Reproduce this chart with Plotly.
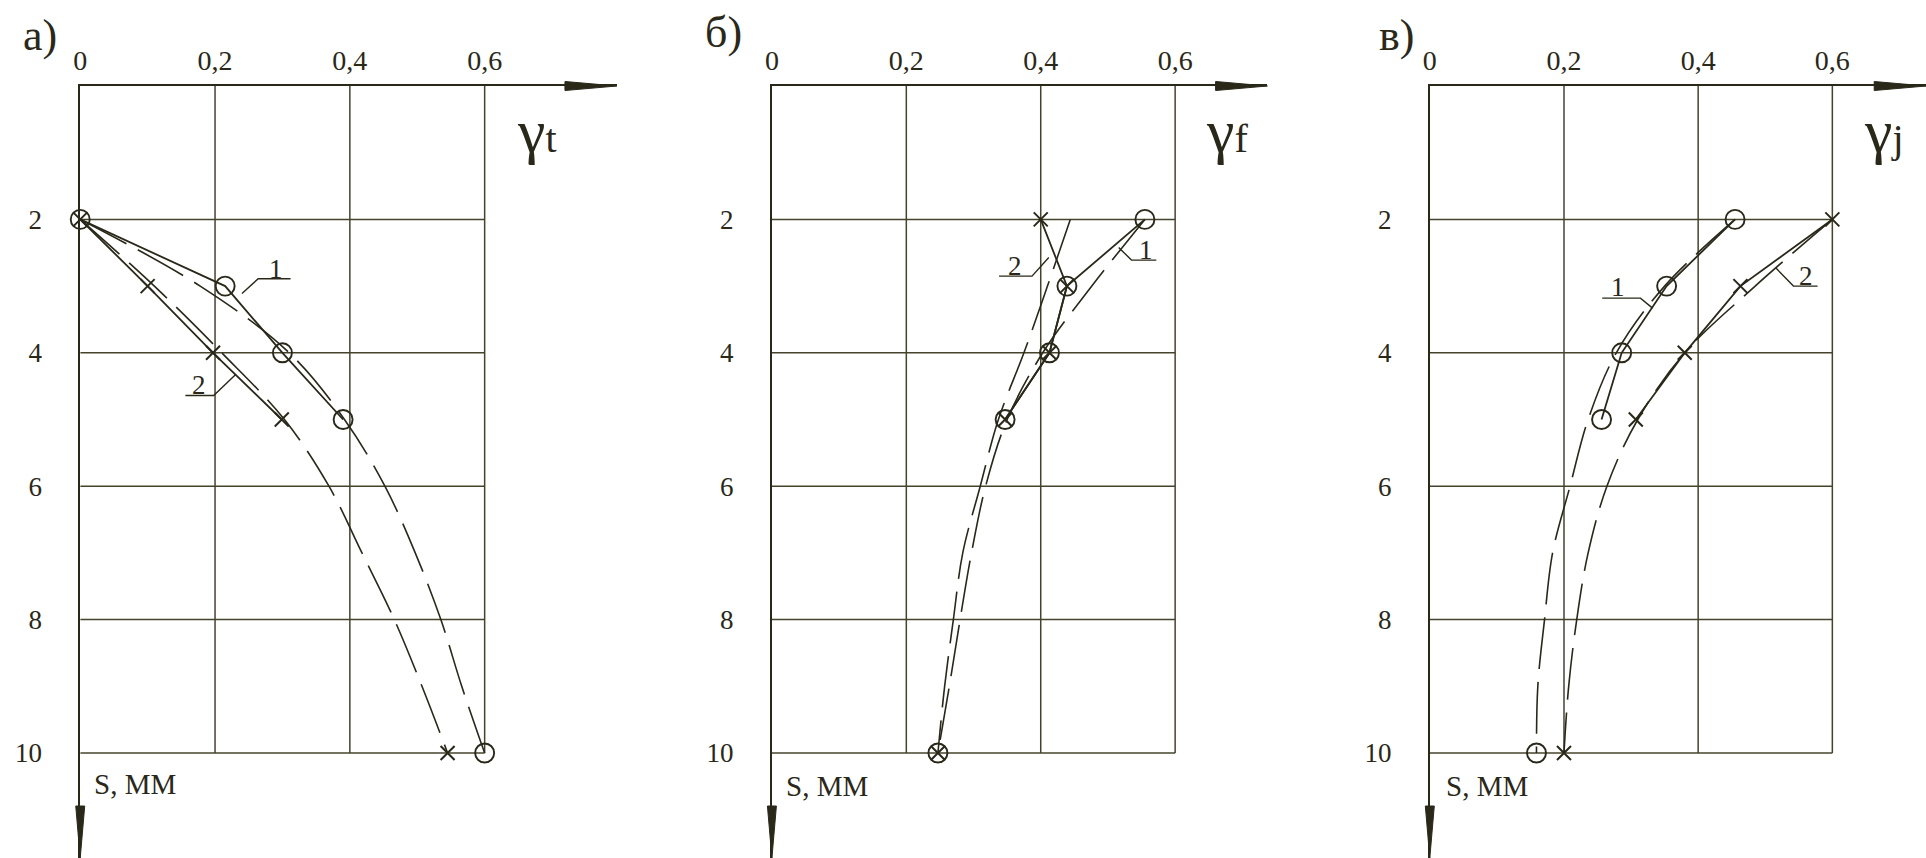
import plotly.graph_objects as go

# Settlement S, mm, at which the coefficients were measured
S_MEAS = [2, 3, 4, 5, 10]
# Settlement levels along the fitted (dashed) curves
S_FIT = [2, 3, 4, 5, 6, 7, 8, 9, 10]

# а) coefficient γt
GT_1 = [0.0, 0.215, 0.30, 0.39, 0.60]
GT_2 = [0.0, 0.10, 0.197, 0.299, 0.545]
GT_1_FIT = [0.0, 0.178, 0.31, 0.392, 0.452, 0.497, 0.535, 0.566, 0.60]
GT_2_FIT = [0.0, 0.11, 0.21, 0.303, 0.369, 0.418, 0.466, 0.507, 0.545]

# б) coefficient γf
GF_1 = [0.555, 0.439, 0.413, 0.347, 0.247]
GF_2 = [0.40, 0.439, 0.413, 0.347, 0.247]
GF_1_FIT = [0.555, 0.476, 0.403, 0.35, 0.318, 0.297, 0.28, 0.264, 0.247]
GF_2_FIT = [0.444, 0.41, 0.375, 0.337, 0.31, 0.284, 0.27, 0.257, 0.247]

# в) coefficient γj
GJ_1 = [0.455, 0.353, 0.286, 0.256, 0.159]
GJ_2 = [0.60, 0.463, 0.38, 0.307, 0.20]
GJ_1_FIT = [0.455, 0.35, 0.278, 0.236, 0.209, 0.183, 0.171, 0.161, 0.159]
GJ_2_FIT = [0.60, 0.485, 0.38, 0.31, 0.264, 0.236, 0.219, 0.207, 0.20]

X_TICKS = [0, 0.2, 0.4, 0.6]
X_TICK_TEXT = ["0", "0,2", "0,4", "0,6"]
Y_TICKS = [2, 4, 6, 8, 10]
Y_TICK_TEXT = ["2", "4", "6", "8", "10"]

# curve number callouts: label, label position, underline + leader polyline
CALLOUTS_T = [("1", 0.290, 2.74, [0.312, 0.264, 0.240], [2.89, 2.89, 3.11]),
              ("2", 0.176, 4.48, [0.156, 0.198, 0.231], [4.64, 4.64, 4.32])]
CALLOUTS_F = [("1", 0.556, 2.46, [0.572, 0.535, 0.516], [2.61, 2.61, 2.42]),
              ("2", 0.362, 2.70, [0.338, 0.387, 0.412], [2.85, 2.85, 2.57])]
CALLOUTS_J = [("1", 0.280, 3.02, [0.257, 0.314, 0.332], [3.18, 3.18, 3.33]),
              ("2", 0.561, 2.85, [0.578, 0.542, 0.516], [3.00, 3.00, 2.73])]

# page geometry, px
W, H = 1926, 858
Y0_PX, Y10_PX = 86.0, 753.0

INK = "#2a2819"
GRID = "#46432d"
FONT = "Liberation Serif"

PANELS = [
    dict(letter="а)", sub="t", x0=73.5, x06=479.4, tip=612.0,
         letter_xy=(33, 35), gamma_xy=(510, 131), s_xy=(85, 784),
         meas=(GT_1, GT_2), fit=(GT_1_FIT, GT_2_FIT), callouts=CALLOUTS_T),
    dict(letter="б)", sub="f", x0=767.7, x06=1172.4, tip=1265.0,
         letter_xy=(719, 33), gamma_xy=(1201, 131), s_xy=(780, 786),
         meas=(GF_1, GF_2), fit=(GF_1_FIT, GF_2_FIT), callouts=CALLOUTS_F),
    dict(letter="в)", sub="j", x0=1428.0, x06=1832.0, tip=1926.0,
         letter_xy=(1395, 35), gamma_xy=(1862, 131), s_xy=(1442, 786),
         meas=(GJ_1, GJ_2), fit=(GJ_1_FIT, GJ_2_FIT), callouts=CALLOUTS_J),
]


def px(x):
    return x / W


def py(y):
    return 1 - y / H


fig = go.Figure()
shapes = []
annotations = []

for i, p in enumerate(PANELS):
    n = "" if i == 0 else str(i + 1)
    xr, yr = "x" + n, "y" + n
    x_per = (p["x06"] - p["x0"]) / 0.6
    x_hi = (p["tip"] - p["x0"]) / x_per
    y_per = (Y10_PX - Y0_PX) / 10
    y_hi = (H - Y0_PX) / y_per

    fig.update_layout({
        "xaxis" + n: dict(
            domain=[px(p["x0"]), px(p["tip"])], range=[0, x_hi], anchor=yr,
            side="top", showline=True, linecolor=INK, linewidth=1.8,
            showgrid=False, zeroline=False, ticks="",
            tickvals=X_TICKS, ticktext=X_TICK_TEXT, ticklabelstandoff=3,
            tickfont=dict(family=FONT, size=28, color=INK), fixedrange=True),
        "yaxis" + n: dict(
            domain=[0, py(Y0_PX)], range=[y_hi, 0], anchor=xr,
            showline=True, linecolor=INK, linewidth=1.8,
            showgrid=False, zeroline=False, ticks="",
            tickvals=Y_TICKS, ticktext=Y_TICK_TEXT, ticklabelstandoff=31,
            tickfont=dict(family=FONT, size=27, color=INK), fixedrange=True),
    })

    # grid
    for xv in X_TICKS[1:]:
        shapes.append(dict(type="line", xref=xr, yref=yr, x0=xv, x1=xv,
                           y0=0, y1=Y_TICKS[-1], layer="below",
                           line=dict(color=GRID, width=1.5)))
    for yv in Y_TICKS:
        shapes.append(dict(type="line", xref=xr, yref=yr, x0=X_TICKS[0],
                           x1=X_TICKS[-1], y0=yv, y1=yv, layer="below",
                           line=dict(color=GRID, width=1.5)))

    # axis arrowheads
    tip = p["tip"]
    shapes.append(dict(type="path", xref="paper", yref="paper",
                       path=f"M {px(tip - 52)} {py(Y0_PX - 4.5)} L {px(tip)} {py(Y0_PX)} "
                            f"L {px(tip - 52)} {py(Y0_PX + 4.5)} Z",
                       fillcolor=INK, line=dict(color=INK, width=1)))
    x0 = p["x0"]
    shapes.append(dict(type="path", xref="paper", yref="paper",
                       path=f"M {px(x0 - 4.5)} {py(806)} L {px(x0)} {py(H)} "
                            f"L {px(x0 + 4.5)} {py(806)} Z",
                       fillcolor=INK, line=dict(color=INK, width=1)))

    g1, g2 = p["meas"]
    f1, f2 = p["fit"]
    common = dict(xaxis=xr, yaxis=yr, showlegend=False, hoverinfo="skip")

    # fitted curves
    for f in (f1, f2):
        fig.add_trace(go.Scatter(x=f, y=S_FIT, mode="lines",
                                 line=dict(color=INK, width=1.6, dash="52px,13px",
                                           shape="spline", smoothing=1.0),
                                 **common))
    # measured broken lines (S = 2..5)
    for g in (g1, g2):
        fig.add_trace(go.Scatter(x=g[:4], y=S_MEAS[:4], mode="lines",
                                 line=dict(color=INK, width=1.8), **common))
    # markers
    fig.add_trace(go.Scatter(x=g1, y=S_MEAS, mode="markers", cliponaxis=False,
                             marker=dict(symbol="circle-open", size=19, color=INK,
                                         line=dict(width=1.9, color=INK)),
                             **common))
    fig.add_trace(go.Scatter(x=g2, y=S_MEAS, mode="markers", cliponaxis=False,
                             marker=dict(symbol="x-thin-open", size=14, color=INK,
                                         line=dict(width=2.0, color=INK)),
                             **common))

    # curve number callouts
    for label, tx, ty, lx, ly in p["callouts"]:
        fig.add_trace(go.Scatter(x=lx, y=ly, mode="lines",
                                 line=dict(color=INK, width=1.4), **common))
        annotations.append(dict(x=tx, y=ty, xref=xr, yref=yr, text=label,
                                showarrow=False, xanchor="center", yanchor="middle",
                                font=dict(family=FONT, size=27, color=INK)))

    # panel letter, coefficient name, vertical axis name
    lx_, ly_ = p["letter_xy"]
    annotations.append(dict(x=px(lx_), y=py(ly_), xref="paper", yref="paper",
                            text=p["letter"], showarrow=False,
                            xanchor="center", yanchor="middle",
                            font=dict(family=FONT, size=44, color=INK)))
    gx, gy = p["gamma_xy"]
    annotations.append(dict(x=px(gx), y=py(gy), xref="paper", yref="paper",
                            text=f"<span style='font-size:62px'>γ</span>{p['sub']}",
                            showarrow=False, xanchor="left", yanchor="middle",
                            font=dict(family=FONT, size=40, color=INK)))
    sx, sy = p["s_xy"]
    annotations.append(dict(x=px(sx), y=py(sy), xref="paper", yref="paper",
                            text="S, ММ", showarrow=False,
                            xanchor="left", yanchor="middle",
                            font=dict(family=FONT, size=29, color=INK)))

fig.update_layout(
    width=W, height=H,
    margin=dict(l=0, r=0, t=0, b=0),
    paper_bgcolor="white", plot_bgcolor="rgba(0,0,0,0)",
    shapes=shapes, annotations=annotations,
    font=dict(family=FONT, color=INK),
)

fig.write_html("out.html")
